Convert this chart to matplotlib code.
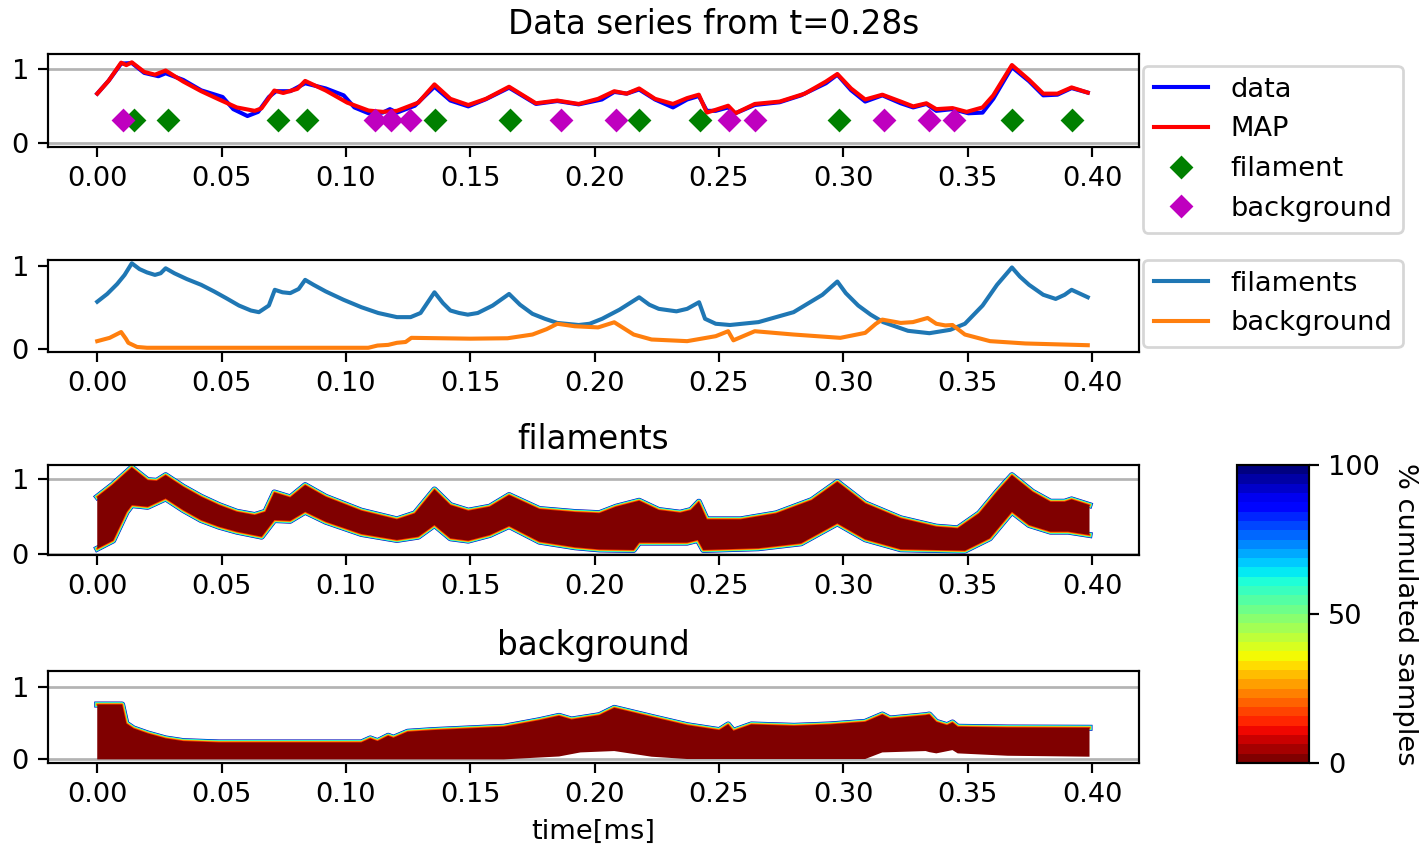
import numpy as np
import matplotlib
matplotlib.use('Agg')
import matplotlib.pyplot as plt
from matplotlib.colors import Normalize
from matplotlib.cm import ScalarMappable

# ---- data (time in ms, normalised amplitude) ----
map_t = [0.000, 0.0046, 0.0096, 0.0117, 0.0139, 0.0189, 0.0232, 0.0275, 0.0346, 0.0418,
         0.049, 0.0561, 0.0633, 0.066, 0.0712, 0.0748, 0.0805, 0.0836, 0.0919, 0.1005,
         0.1091, 0.1148, 0.1205, 0.1291, 0.1356, 0.142, 0.1492, 0.1563, 0.1656, 0.1764,
         0.185, 0.1936, 0.2014, 0.2079, 0.2129, 0.2179, 0.2243, 0.2315, 0.2372, 0.2419,
         0.2451, 0.2487, 0.2537, 0.2566, 0.2644, 0.2744, 0.2845, 0.293, 0.2976, 0.3031,
         0.3088, 0.3157, 0.3231, 0.3281, 0.3334, 0.3374, 0.3439, 0.3496, 0.356, 0.3603,
         0.3678, 0.3747, 0.3804, 0.3861, 0.3918, 0.3983]
map_v = [0.665, 0.84, 1.083, 1.05, 1.088, 0.958, 0.921, 0.977, 0.828, 0.698,
         0.586, 0.479, 0.433, 0.465, 0.707, 0.674, 0.73, 0.837, 0.707, 0.544,
         0.437, 0.419, 0.433, 0.544, 0.79, 0.595, 0.512, 0.595, 0.758, 0.535,
         0.572, 0.526, 0.595, 0.698, 0.665, 0.735, 0.595, 0.526, 0.605, 0.651,
         0.409, 0.447, 0.502, 0.40, 0.526, 0.558, 0.665, 0.828, 0.93, 0.735,
         0.586, 0.651, 0.558, 0.493, 0.535, 0.456, 0.47, 0.419, 0.479, 0.642,
         1.051, 0.851, 0.665, 0.665, 0.749, 0.679]

data_t = [0.000, 0.0046, 0.0096, 0.0139, 0.0189, 0.0246, 0.0275, 0.0346, 0.0418, 0.0504,
          0.0547, 0.0604, 0.0647, 0.069, 0.0719, 0.0776, 0.0836, 0.0919, 0.0991, 0.1034,
          0.1091, 0.1148, 0.1177, 0.1205, 0.1277, 0.1356, 0.142, 0.1492, 0.1563, 0.1656,
          0.1764, 0.185, 0.1936, 0.2029, 0.2079, 0.2129, 0.2179, 0.2243, 0.2315, 0.2372,
          0.2419, 0.2451, 0.2487, 0.2537, 0.2566, 0.2644, 0.2744, 0.283, 0.293, 0.2976,
          0.3031, 0.3088, 0.3157, 0.3231, 0.3281, 0.3334, 0.3374, 0.3439, 0.3503, 0.356,
          0.3603, 0.3678, 0.3747, 0.3804, 0.3861, 0.3918, 0.3983]
data_v = [0.665, 0.84, 1.07, 1.078, 0.945, 0.90, 0.94, 0.85, 0.71, 0.62,
          0.456, 0.363, 0.419, 0.619, 0.698, 0.698, 0.805, 0.735, 0.642, 0.479,
          0.40, 0.409, 0.456, 0.409, 0.502, 0.758, 0.572, 0.493, 0.59, 0.745,
          0.526, 0.565, 0.52, 0.586, 0.688, 0.665, 0.721, 0.586, 0.479, 0.586,
          0.633, 0.433, 0.433, 0.479, 0.40, 0.512, 0.549, 0.642, 0.805, 0.921,
          0.712, 0.558, 0.642, 0.535, 0.479, 0.526, 0.433, 0.456, 0.40, 0.409,
          0.595, 1.023, 0.833, 0.642, 0.651, 0.74, 0.679]

fil_marks = [0.0149, 0.0286, 0.0726, 0.0845, 0.136, 0.1661, 0.218, 0.2425, 0.2981, 0.3678, 0.3921]
bg_marks = [0.0103, 0.1117, 0.1182, 0.1258, 0.1864, 0.2086, 0.2541, 0.2644, 0.3162, 0.3343, 0.3445]
mark_level = 0.316

fil_t = [0.000, 0.004, 0.008, 0.011, 0.0139, 0.017, 0.020, 0.0232, 0.0255, 0.0275,
         0.031, 0.036, 0.0418, 0.047, 0.0518, 0.057, 0.0618, 0.065, 0.069, 0.0714,
         0.0745, 0.0776, 0.081, 0.0836, 0.087, 0.0919, 0.099, 0.1062, 0.113, 0.1205,
         0.126, 0.130, 0.1356, 0.139, 0.142, 0.1455, 0.149, 0.153, 0.159, 0.1656,
         0.170, 0.175, 0.180, 0.185, 0.1936, 0.198, 0.203, 0.210, 0.2179, 0.222,
         0.2258, 0.2329, 0.2372, 0.242, 0.2444, 0.2487, 0.2544, 0.2659, 0.280, 0.2916,
         0.2976, 0.301, 0.306, 0.311, 0.316, 0.326, 0.3346, 0.343, 0.3489, 0.356,
         0.3618, 0.3678, 0.371, 0.3747, 0.3804, 0.3854, 0.389, 0.3918, 0.3983]
fil_v = [0.566, 0.66, 0.78, 0.89, 1.03, 0.96, 0.92, 0.89, 0.91, 0.97,
         0.91, 0.84, 0.77, 0.69, 0.61, 0.52, 0.46, 0.44, 0.52, 0.71,
         0.68, 0.67, 0.72, 0.83, 0.77, 0.69, 0.59, 0.50, 0.43, 0.38,
         0.38, 0.43, 0.68, 0.55, 0.46, 0.43, 0.41, 0.43, 0.52, 0.66,
         0.53, 0.42, 0.36, 0.31, 0.285, 0.30, 0.36, 0.47, 0.62, 0.53,
         0.48, 0.45, 0.48, 0.56, 0.36, 0.30, 0.285, 0.32, 0.44, 0.65,
         0.81, 0.67, 0.52, 0.41, 0.32, 0.215, 0.186, 0.227, 0.30, 0.52,
         0.77, 0.98, 0.87, 0.77, 0.65, 0.60, 0.65, 0.71, 0.62]

bg_t = [0.000, 0.005, 0.0096, 0.0115, 0.0125, 0.016, 0.020, 0.109, 0.1127, 0.117,
        0.1205, 0.124, 0.1263, 0.150, 0.165, 0.175, 0.1807, 0.185, 0.192, 0.2014,
        0.2079, 0.2157, 0.2229, 0.2372, 0.2487, 0.2537, 0.2558, 0.2644, 0.280, 0.2988,
        0.3088, 0.3131, 0.3157, 0.3231, 0.328, 0.3339, 0.3374, 0.341, 0.3439, 0.3489,
        0.359, 0.3732, 0.3983]
bg_v = [0.09, 0.13, 0.20, 0.12, 0.07, 0.02, 0.01, 0.01, 0.037, 0.045,
        0.07, 0.08, 0.13, 0.12, 0.125, 0.17, 0.235, 0.30, 0.27, 0.256,
        0.318, 0.17, 0.11, 0.09, 0.15, 0.21, 0.10, 0.21, 0.17, 0.13,
        0.19, 0.30, 0.35, 0.31, 0.32, 0.37, 0.30, 0.28, 0.285, 0.17,
        0.09, 0.062, 0.041]

# posterior sample envelopes (outer edge of all samples)
filband_hi_t = [0.000, 0.006, 0.0139, 0.0203, 0.0239, 0.0275, 0.0346, 0.0418, 0.049, 0.0561,
                0.0633, 0.0676, 0.0712, 0.0776, 0.0836, 0.0919, 0.1062, 0.1205, 0.1277, 0.1356,
                0.142, 0.1492, 0.1578, 0.1656, 0.1778, 0.1921, 0.2019, 0.2086, 0.2179, 0.2258,
                0.2344, 0.2387, 0.2419, 0.2451, 0.2587, 0.273, 0.2873, 0.2976, 0.3088, 0.3231,
                0.3374, 0.346, 0.3546, 0.3618, 0.3678, 0.3761, 0.3833, 0.389, 0.3918, 0.399]
filband_hi_v = [0.764, 0.92, 1.156, 0.987, 0.978, 1.053, 0.898, 0.764, 0.653, 0.564,
                0.52, 0.564, 0.822, 0.756, 0.92, 0.764, 0.578, 0.462, 0.542, 0.862,
                0.653, 0.578, 0.631, 0.787, 0.60, 0.56, 0.545, 0.631, 0.711, 0.587,
                0.551, 0.587, 0.698, 0.462, 0.462, 0.542, 0.72, 0.964, 0.676, 0.476,
                0.364, 0.342, 0.542, 0.831, 1.053, 0.831, 0.698, 0.698, 0.729, 0.653]
filband_lo_t = [0.000, 0.0064, 0.0118, 0.0139, 0.0203, 0.0275, 0.0346, 0.0418, 0.049, 0.0561,
                0.0661, 0.0712, 0.0776, 0.0836, 0.0919, 0.1062, 0.1205, 0.1291, 0.1356, 0.142,
                0.1492, 0.1578, 0.1656, 0.1778, 0.1921, 0.2019, 0.2157, 0.2179, 0.2372, 0.2415,
                0.2437, 0.2659, 0.283, 0.2976, 0.3088, 0.3231, 0.3489, 0.3589, 0.3678, 0.3747,
                0.3833, 0.3904, 0.399]
filband_lo_v = [0.07, 0.18, 0.56, 0.653, 0.631, 0.742, 0.587, 0.453, 0.364, 0.298,
                0.231, 0.453, 0.444, 0.564, 0.431, 0.267, 0.187, 0.231, 0.387, 0.209,
                0.178, 0.253, 0.373, 0.164, 0.089, 0.06, 0.053, 0.151, 0.151, 0.187,
                0.053, 0.076, 0.142, 0.409, 0.196, 0.062, 0.044, 0.209, 0.564, 0.387,
                0.298, 0.298, 0.253]

bgband_hi_t = [0.000, 0.010, 0.0117, 0.0146, 0.0203, 0.0275, 0.0346, 0.049, 0.1062, 0.1098,
               0.1127, 0.117, 0.1191, 0.1248, 0.1349, 0.1492, 0.1635, 0.1778, 0.1857, 0.1907,
               0.2019, 0.2079, 0.2229, 0.2372, 0.2501, 0.2537, 0.2558, 0.263, 0.2802, 0.2945,
               0.3088, 0.3157, 0.3188, 0.3331, 0.3346, 0.3374, 0.3417, 0.3439, 0.346, 0.3661,
               0.399]
bgband_hi_v = [0.757, 0.757, 0.495, 0.427, 0.358, 0.289, 0.252, 0.234, 0.234, 0.289,
               0.252, 0.326, 0.298, 0.381, 0.404, 0.427, 0.45, 0.541, 0.601, 0.55,
               0.61, 0.711, 0.587, 0.472, 0.404, 0.482, 0.394, 0.482, 0.463, 0.482,
               0.518, 0.619, 0.564, 0.61, 0.619, 0.518, 0.472, 0.509, 0.45, 0.44,
               0.436]
bgband_lo_t = [0.000, 0.1635, 0.1857, 0.1943, 0.2079, 0.2229, 0.2372, 0.3088, 0.3157, 0.3331,
               0.3346, 0.3374, 0.3439, 0.346, 0.3661, 0.399]
bgband_lo_v = [0.0, 0.0, 0.04, 0.096, 0.115, 0.037, 0.005, 0.005, 0.096, 0.115,
               0.10, 0.083, 0.128, 0.083, 0.05, 0.037]

xticks = [0.00, 0.05, 0.10, 0.15, 0.20, 0.25, 0.30, 0.35, 0.40]

W, H = 1427, 847
DPI = 196


def px_rect(l, t, r, b):
    # pixel box of the reference -> figure fraction rect
    return [l / W, 1 - b / H, (r - l) / W, (b - t) / H]


def draw_band(ax, hi_t, hi_v, lo_t, lo_v, stroke_lo=True):
    cmap = plt.get_cmap('jet_r')
    # coloured fringes: rare samples (high cumulated %) are blue, the core is dark red
    for lw, c in [(2.2, 0.95), (1.8, 0.65), (1.4, 0.5), (1.0, 0.3), (0.6, 0.15)]:
        ax.plot(hi_t, hi_v, color=cmap(c), lw=lw, solid_joinstyle='round')
        if stroke_lo:
            ax.plot(lo_t, lo_v, color=cmap(c), lw=lw, solid_joinstyle='round')
    xs = list(hi_t) + list(lo_t)[::-1]
    ys = list(hi_v) + list(lo_v)[::-1]
    ax.fill(xs, ys, color=cmap(0.0), lw=0, zorder=3)


fig = plt.figure(figsize=(W / DPI, H / DPI), dpi=DPI)
fig.suptitle('Data series from t=0.28s', fontsize=12, y=1 - 8 / H, va='top')

ax1 = fig.add_axes(px_rect(48, 54, 1139, 147))
ax2 = fig.add_axes(px_rect(48, 260, 1139, 352))
ax3 = fig.add_axes(px_rect(48, 465, 1139, 555))
ax4 = fig.add_axes(px_rect(48, 671, 1139, 763))
cax = fig.add_axes(px_rect(1237, 465, 1309, 763))

# top panel: data vs MAP with event markers
for y in (0, 1):
    ax1.axhline(y, color='0.7', lw=1, zorder=0)
ax1.plot(data_t, data_v, 'b', label='data')
ax1.plot(map_t, map_v, 'r', label='MAP')
ax1.plot(fil_marks, [mark_level] * len(fil_marks), 'gD', ls='none', ms=5, label='filament')
ax1.plot(bg_marks, [mark_level] * len(bg_marks), 'mD', ls='none', ms=5, label='background')
ax1.set_ylim(-0.055, 1.2)
ax1.legend(loc='upper left', bbox_to_anchor=(1143 / W, 1 - 66 / H),
           bbox_transform=fig.transFigure, borderaxespad=0)

# second panel: the two components
ax2.plot(fil_t, fil_v, color='C0', label='filaments')
ax2.plot(bg_t, bg_v, color='C1', label='background')
ax2.set_ylim(-0.041, 1.07)
ax2.legend(loc='upper left', bbox_to_anchor=(1143 / W, 1 - 260 / H),
           bbox_transform=fig.transFigure, borderaxespad=0)

# posterior sample bands
for y in (0, 1):
    ax3.axhline(y, color='0.7', lw=1, zorder=0)
draw_band(ax3, filband_hi_t, filband_hi_v, filband_lo_t, filband_lo_v)
ax3.set_ylim(-0.015, 1.19)
ax3.set_title('filaments', fontsize=12)

for y in (0, 1):
    ax4.axhline(y, color='0.7', lw=1, zorder=0)
draw_band(ax4, bgband_hi_t, bgband_hi_v, bgband_lo_t, bgband_lo_v, stroke_lo=False)
ax4.set_ylim(-0.05, 1.22)
ax4.set_title('background', fontsize=12)
ax4.set_xlabel('time[ms]')

for ax in (ax1, ax2, ax3, ax4):
    ax.set_xlim(-0.0198, 0.4189)
    ax.set_xticks(xticks)
    ax.set_xticklabels(['%.2f' % x for x in xticks])
    ax.set_yticks([0, 1])

cb = fig.colorbar(ScalarMappable(norm=Normalize(0, 100), cmap=plt.get_cmap('jet_r', 32)), cax=cax)
cb.set_ticks([0, 50, 100])
cb.set_label('% cumulated samples', rotation=270, labelpad=14)

fig.savefig('out.png', dpi=DPI)
